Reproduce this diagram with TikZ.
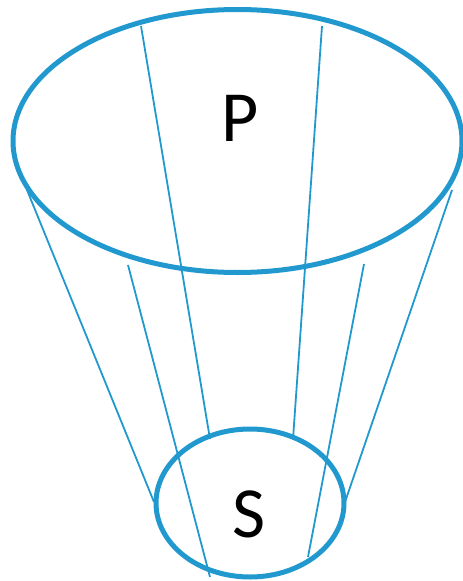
\documentclass[tikz,border=0pt]{standalone}
\usepackage{fontspec}
\setmainfont{Carlito}
\definecolor{cblue}{RGB}{33,153,206}
\begin{document}
\begin{tikzpicture}[x=1pt,y=-1pt,
  ring/.style={draw=cblue,line width=5pt},
  ray/.style={draw=cblue,line width=1.8pt},
  lab/.style={font=\fontsize{72}{72}\selectfont,anchor=base,inner sep=0pt}]
\useasboundingbox (0,0) rectangle (463,581);
% rays
\coordinate (a1) at (141,26);  \coordinate (b1) at (210,439);
\coordinate (a2) at (322,26);  \coordinate (b2) at (293,439);
\coordinate (a3) at (27,190);  \coordinate (b3) at (154,502);
\coordinate (a4) at (452,190); \coordinate (b4) at (345,502);
\coordinate (a5) at (128,265); \coordinate (b5) at (210,577);
\coordinate (a6) at (364,264); \coordinate (b6) at (308,557);
\foreach \i in {1,...,6} {\draw[ray] (a\i) -- (b\i);}
% ellipses
\draw[ring] (237.5,141) ellipse [x radius=224.5, y radius=131.5];
\draw[ring] (250,503) ellipse [x radius=94, y radius=74];
\node[lab] (P) at (240,141) {P};
\node[lab] (S) at (249,537) {S};
\end{tikzpicture}
\end{document}
